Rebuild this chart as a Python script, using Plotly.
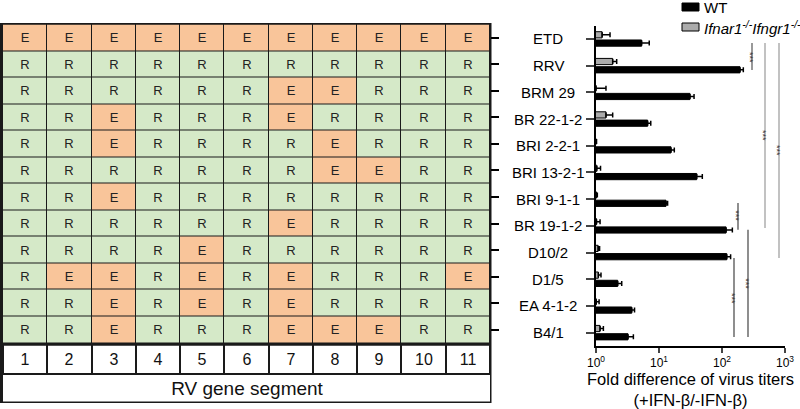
import plotly.graph_objects as go

strains = ["ETD", "RRV", "BRM 29", "BR 22-1-2", "BRI 2-2-1", "BRI 13-2-1",
           "BRI 9-1-1", "BR 19-1-2", "D10/2", "D1/5", "EA 4-1-2", "B4/1"]
segments = list(range(1, 12))
segment_labels = [str(i) for i in segments]

genotype = [
    "EEEEEEEEEEE",
    "RRRRRRRRRRR",
    "RRRRRREERRR",
    "RRERRRERRRR",
    "RRERRRRERRR",
    "RRRRRRREERR",
    "RRERRRRRRRR",
    "RRRRRRERRRR",
    "RRRRERRRRRR",
    "REERERERRRE",
    "RRERERERRRR",
    "RRERRREEERR",
]

wt_mean = [5.3, 193, 31, 6.6, 15.5, 39.7, 12.9, 116, 119, 2.21, 3.69, 3.22]
wt_err = [1.7, 25, 5, 0.8, 2.0, 9.0, 0.8, 30, 18, 0.35, 0.4, 0.7]
ko_mean = [1.25, 1.84, 1.0, 1.44, 1.0, 1.03, 1.02, 1.02, 1.08, 1.09, 1.01, 1.16]
ko_err = [0.42, 0.29, 0.44, 0.4, 0.02, 0.15, 0.03, 0.14, 0.06, 0.11, 0.11, 0.15]

series_names = ["WT", "<i>Ifnar1<sup>-/-</sup>Ifngr1<sup>-/-</sup></i>"]
series_colors = ["black", "#ABABAB"]

# significance brackets: (x px, first category idx, last category idx, star y idx, colour)
brackets = [
    (752, 0.15, 1.16, 0.68, "#555555"),
    (765, 0.15, 7.08, 3.6, "#999999"),
    (779, 0.15, 8.2, 4.16, "#999999"),
    (738, 6.14, 7.15, 6.6, "#444444"),
    (748, 7.15, 11.16, 9.15, "#444444"),
    (734, 8.2, 11.16, 9.7, "#444444"),
]

ORANGE = "#F9C59A"
GREEN = "#D5E9C8"
FONT = "Liberation Sans, Arial, sans-serif"

W, H = 800, 409
def px(x):
    return x / W
def py(y):
    return 1 - y / H

fig = go.Figure()

# genotype grid
z = [[1 if c == "E" else 0 for c in row] for row in genotype]
txt = [[c for c in row] for row in genotype]
fig.add_trace(go.Heatmap(
    z=z, x=segments, y=strains, text=txt, texttemplate="%{text}",
    textfont=dict(size=13, color="#222222", family=FONT),
    colorscale=[[0, GREEN], [1, ORANGE]], zmin=0, zmax=1, showscale=False,
    xgap=1, ygap=1, xaxis="x2", yaxis="y2", hoverinfo="skip", showlegend=False))

# segment number row
fig.add_trace(go.Heatmap(
    z=[[0] * 11], x=segments, y=[0], text=[segment_labels], texttemplate="%{text}",
    textfont=dict(size=16, color="#111111", family=FONT),
    colorscale=[[0, "white"], [1, "white"]], showscale=False,
    xgap=2, ygap=0, xaxis="x2", yaxis="y3", hoverinfo="skip", showlegend=False))

# title row
fig.add_trace(go.Heatmap(
    z=[[0]], x=[0.5, 11.5], y=[0, 1], text=[["RV gene segment"]], texttemplate="%{text}",
    textfont=dict(size=19, color="#111111", family=FONT),
    colorscale=[[0, "white"], [1, "white"]], showscale=False,
    xaxis="x2", yaxis="y4", hoverinfo="skip", showlegend=False))

# bars (knockout first so it sits above WT inside each category)
fig.add_trace(go.Bar(
    name=series_names[1], y=strains, x=ko_mean, orientation="h",
    marker=dict(color=series_colors[1], line=dict(color="black", width=1)),
    error_x=dict(type="data", array=ko_err, arrayminus=[0] * 12, symmetric=False,
                 color="black", thickness=1.5, width=2.5),
    showlegend=False))
fig.add_trace(go.Bar(
    name=series_names[0], y=strains, x=wt_mean, orientation="h",
    marker=dict(color=series_colors[0], line=dict(color="black", width=1)),
    error_x=dict(type="data", array=wt_err, arrayminus=[0] * 12, symmetric=False,
                 color="black", thickness=1.5, width=2.5),
    showlegend=False))

shapes = [dict(type="rect", xref="paper", yref="paper", x0=px(0), x1=px(491.5),
               y0=py(403), y1=py(23), fillcolor="#1a1a1a", line=dict(width=0), layer="below")]
annotations = []
for (xp, i0, i1, istar, col) in brackets:
    shapes.append(dict(type="line", xref="paper", yref="y", x0=px(xp), x1=px(xp),
                       y0=i0, y1=i1, line=dict(color=col, width=1.2)))
    annotations.append(dict(xref="paper", yref="y", x=px(xp + 5), y=istar, text="***",
                            textangle=90, showarrow=False,
                            font=dict(size=9, color="#333333", family=FONT)))

# centred category labels for the bar chart
for s in strains:
    annotations.append(dict(xref="paper", yref="y", x=px(548), y=s, text=s,
                            xanchor="center", yanchor="middle", showarrow=False,
                            font=dict(size=15, color="black", family=FONT)))

# legend drawn as keys + labels at the top right
for k, (name, col) in enumerate(zip(series_names, series_colors)):
    yc = 7 + 20 * k
    shapes.append(dict(type="rect", xref="paper", yref="paper",
                       x0=px(682), x1=px(699), y0=py(yc + 4), y1=py(yc - 4),
                       fillcolor=col, line=dict(color="black", width=1)))
    annotations.append(dict(xref="paper", yref="paper", x=px(702), y=py(yc), text=name,
                            xanchor="left", yanchor="middle", showarrow=False,
                            font=dict(size=15, color="black", family=FONT)))

fig.update_layout(
    width=W, height=H, autosize=False, margin=dict(l=0, r=0, t=0, b=0, pad=0),
    paper_bgcolor="white", plot_bgcolor="rgba(0,0,0,0)",
    font=dict(family=FONT, color="black"),
    barmode="group", bargap=0.38, bargroupgap=0.25,
    showlegend=False,
    xaxis=dict(domain=[px(596), px(785)], type="log", range=[0, 3],
               tickvals=[1, 10, 100, 1000],
               ticktext=["10<sup>0</sup>", "10<sup>1</sup>", "10<sup>2</sup>", "10<sup>3</sup>"],
               ticks="outside", ticklen=5, tickwidth=2, showline=True, linewidth=2,
               linecolor="black", showgrid=False, zeroline=False, anchor="y",
               tickfont=dict(size=12), automargin=False,
               title=dict(text="Fold difference of virus titers<br>(+IFN-β/-IFN-β)",
                          font=dict(size=16.5), standoff=4)),
    yaxis=dict(domain=[py(346), py(25.6)], autorange="reversed", type="category",
               categoryarray=strains, categoryorder="array", showticklabels=False,
               ticks="outside", ticklen=8, tickwidth=2, showline=True, linewidth=2,
               linecolor="black", showgrid=False, anchor="x", automargin=False),
    xaxis2=dict(domain=[px(3), px(490)], range=[0.5, 11.5], type="linear",
                visible=False, anchor="y2", automargin=False),
    yaxis2=dict(domain=[py(343), py(24.5)], autorange="reversed", type="category",
                categoryarray=strains, categoryorder="array", side="right",
                ticks="outside", ticklen=8, tickwidth=2, tickcolor="black",
                showticklabels=False, showgrid=False, showline=False, zeroline=False,
                anchor="x2", automargin=False),
    yaxis3=dict(domain=[py(373), py(345.5)], range=[-0.5, 0.5], visible=False,
                anchor="x2", automargin=False),
    yaxis4=dict(domain=[py(401.5), py(375)], range=[0, 1], visible=False,
                anchor="x2", automargin=False),
    shapes=shapes, annotations=annotations,
)

fig.write_html("out.html", config={"displayModeBar": False},
               post_script="document.body.style.margin='0';")
